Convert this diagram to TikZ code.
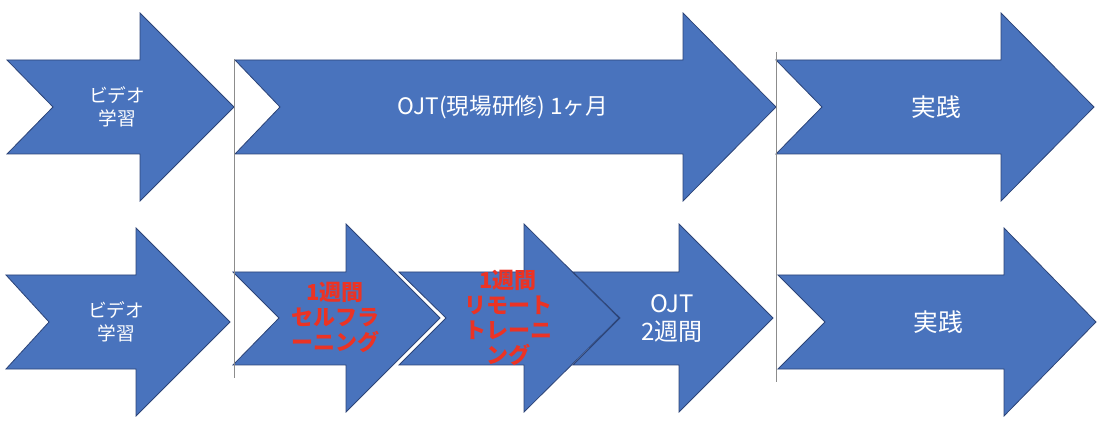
\documentclass[tikz,border=0pt]{standalone}
\usepackage{fontspec}
\newfontfamily\jpfont{Noto Sans CJK JP}
\definecolor{flowBlue}{RGB}{73,115,189}
\definecolor{flowEdge}{RGB}{44,68,120}
\definecolor{flowRed}{RGB}{235,51,36}
\begin{document}
\begin{tikzpicture}[x=0.75pt,y=-0.75pt,
  stage/.style={fill=flowBlue,draw=flowEdge,line width=0.6pt,line join=miter},
  divider/.style={draw=black!45,line width=0.7pt},
  wlabel/.style={text=white,align=center,inner sep=0pt},
  rlabel/.style={text=flowRed,align=center,inner sep=0pt,font=\jpfont\bfseries\fontsize{16.5}{18.8}\selectfont}]
\useasboundingbox (0,0) rectangle (1108,442);
% upper row
\draw[stage] (7,60) -- (140,60) -- (140,13) -- (234,107) -- (140,201) -- (140,154) -- (7,154) -- (53,107) -- cycle;
\draw[stage] (235,60) -- (683,60) -- (683,13) -- (776,107) -- (683,201) -- (683,154) -- (235,154) -- (280,107) -- cycle;
\draw[stage] (776,60) -- (1001,60) -- (1001,13) -- (1094,107) -- (1001,201) -- (1001,154) -- (776,154) -- (822,107) -- cycle;
% lower row
\draw[stage] (6,275) -- (136,275) -- (136,228) -- (230,322) -- (136,416) -- (136,369) -- (6,369) -- (49,322) -- cycle;
\draw[stage] (233,272) -- (346,272) -- (346,224) -- (440,318) -- (346,412) -- (346,365) -- (233,365) -- (279,318) -- cycle;
\draw[stage] (399,272) -- (524,272) -- (524,224) -- (619,318) -- (524,412) -- (524,365) -- (399,365) -- (446,318) -- cycle;
\draw[stage] (573,272) -- (679,272) -- (679,224) -- (773,318) -- (679,412) -- (679,365) -- (573,365) -- (620,318) -- cycle;
\draw[stage] (778,275) -- (1004,275) -- (1004,228) -- (1096,322) -- (1004,416) -- (1004,369) -- (778,369) -- (825,322) -- cycle;
% phase lines
\coordinate (d1a) at (234,59);
\coordinate (d1b) at (234,378);
\coordinate (d2a) at (776,52);
\coordinate (d2b) at (776,382);
\draw[divider] (d1a) -- (d1b);
\draw[divider] (d2a) -- (d2b);
% labels
\node[wlabel,font=\jpfont\fontsize{14}{17.25}\selectfont] (video1) at (117,107) {ビデオ\\学習};
\node[wlabel,font=\jpfont\fontsize{17}{19}\selectfont] (ojt1) at (503,107) {OJT(現場研修) 1ヶ月};
\node[wlabel,font=\jpfont\fontsize{18.5}{20}\selectfont] (jissen1) at (936,107) {実践};
\node[wlabel,font=\jpfont\fontsize{14}{17.25}\selectfont] (video2) at (116,322) {ビデオ\\学習};
\node[rlabel] (self2) at (335,317) {1週間\\セルフラ\\ーニング};
\node[rlabel] (remote2) at (508,318) {1週間\\リモート\\トレーニ\\ング};
\node[wlabel,font=\jpfont\fontsize{18}{21}\selectfont] (ojt2) at (672,319) {OJT\\2週間};
\node[wlabel,font=\jpfont\fontsize{18.5}{20}\selectfont] (jissen2) at (938,322) {実践};
\end{tikzpicture}
\end{document}
